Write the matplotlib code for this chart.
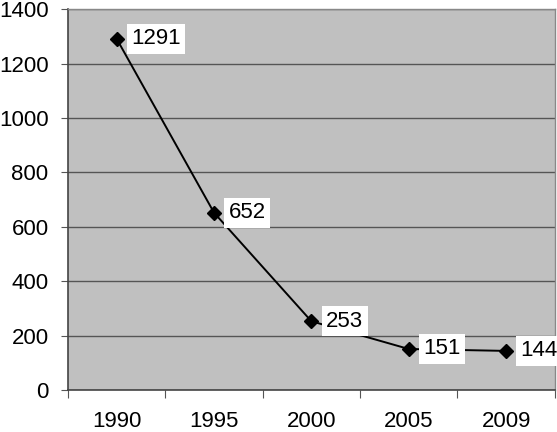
import matplotlib
import matplotlib.pyplot as plt
import numpy as np

matplotlib.use('Agg')

years = ["1990", "1995", "2000", "2005", "2009"]
values = [1291, 652, 253, 151, 144]

plt.rcParams['font.family'] = ['Liberation Sans', 'DejaVu Sans']

fig = plt.figure(figsize=(5.57, 4.32), dpi=100)
ax = fig.add_axes([0.122, 0.097, 0.874, 0.882])
ax.set_facecolor('#c0c0c0')

x = np.arange(len(years)) + 0.5
ax.plot(x, values, color='black', lw=1.4, marker='D', markersize=7, zorder=3)

for xi, v in zip(x, values):
    ax.annotate(str(v), (xi, v), xytext=(10.5, 0), textcoords='offset points',
                va='center', ha='left', fontsize=16, zorder=4,
                bbox=dict(boxstyle='square,pad=0.2', fc='white', ec='none'))

ax.set_xlim(0, len(years))
ax.set_ylim(0, 1400)
ax.set_yticks(range(0, 1401, 200))
ax.yaxis.grid(True, color='#555555', lw=1)
ax.set_axisbelow(True)

ax.set_xticks(range(len(years) + 1))
ax.set_xticklabels([])
ax.set_xticks(x, minor=True)
ax.set_xticklabels(years, minor=True)
ax.tick_params(axis='x', which='minor', length=0, pad=15, labelsize=16)
ax.tick_params(axis='x', which='major', length=6, color='#555555')
ax.tick_params(axis='y', length=5, color='#555555', labelsize=16, pad=9)

for s in ['left', 'bottom']:
    ax.spines[s].set_color('#444444')
    ax.spines[s].set_linewidth(1.2)
for s in ['top', 'right']:
    ax.spines[s].set_color('#888888')
    ax.spines[s].set_linewidth(1)

fig.savefig('out.png', dpi=100)
